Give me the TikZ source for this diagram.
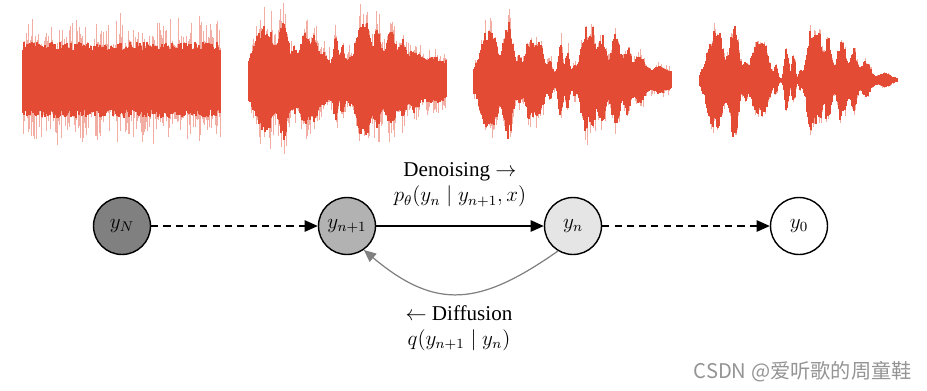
\documentclass[tikz,border=0pt]{standalone}
\usepackage[no-math]{fontspec}
\setmainfont{Liberation Serif}
\newfontfamily\cjkfont{Noto Sans CJK SC}
\usetikzlibrary{arrows.meta}

\definecolor{wavered}{RGB}{227,75,52}

% envelope of the clean signal
\pgfmathdeclarefunction{bump}{3}{%
  \pgfmathparse{abs((#1-#2)/#3)}%
  \pgfmathparse{exp(-min(\pgfmathresult,3)^2)}%
}
\pgfmathdeclarefunction{speech}{1}{%
  \pgfmathparse{36*bump(#1,0.055,0.04)+36*bump(#1,0.1,0.035)+60*bump(#1,0.175,0.03)
    +18*bump(#1,0.23,0.012)+36*bump(#1,0.28,0.03)+34*bump(#1,0.33,0.03)
    +13*bump(#1,0.385,0.012)+38*bump(#1,0.44,0.013)+26*bump(#1,0.475,0.011)
    +8*bump(#1,0.51,0.01)+52*bump(#1,0.565,0.03)+40*bump(#1,0.605,0.02)
    +47*bump(#1,0.65,0.022)+44*bump(#1,0.72,0.03)+30*bump(#1,0.78,0.02)
    +18*bump(#1,0.84,0.035)+6*bump(#1,0.94,0.04)}%
}

\newcommand{\drawwave}[4]{%
  \foreach \i in {0,...,197}{%
    \pgfmathsetmacro{\wenv}{#3*speech(\i/197)}%
    \pgfmathsetmacro{\wup}{\wenv*(0.65+0.35*rnd)+#2*(0.75+0.25*rnd)}%
    \pgfmathsetmacro{\wdn}{\wenv*(0.65+0.35*rnd)+#2*(0.75+0.25*rnd)}%
    \pgfmathsetmacro{\wupf}{\wup+(#2+0.4*\wenv)*#4*rnd^3}%
    \pgfmathsetmacro{\wdnf}{\wdn+(#2+0.4*\wenv)*#4*rnd^3}%
    \draw[wavefaint] (#1+\i,310+\wupf) -- (#1+\i,310-\wdnf);
    \draw[wave] (#1+\i,310+\wup) -- (#1+\i,310-\wdn);
  }%
}

\begin{document}
\begin{tikzpicture}[x=0.02cm,y=0.02cm,
  font=\fontsize{12}{14.4}\selectfont,
  state/.style={circle,draw,thick,minimum size=1.14cm,inner sep=0pt},
  wave/.style={wavered,line width=0.75pt},
  wavefaint/.style={wavered,opacity=0.45,line width=0.5pt},
  tip/.style={-{Triangle[length=7.5pt,width=6.5pt]}},
  dashedge/.style={tip,thick,dash pattern=on 4pt off 3pt},
  solidedge/.style={tip,thick},
  diffedge/.style={-{Triangle[length=7pt,width=6pt]},line width=0.7pt,draw=black!50}]

\useasboundingbox (0,0) rectangle (927,390);

\pgfmathsetseed{7}
\drawwave{23}{38}{0}{0.8}
\drawwave{249}{20}{0.75}{0.7}
\drawwave{474}{9}{0.9}{0.6}
\drawwave{700}{1.5}{1}{0.4}

\node[state,fill=black!50] (yN) at (122,164) {$y_N$};
\node[state,fill=black!30] (yn1) at (347,164) {$y_{n+1}$};
\node[state,fill=black!10] (yn) at (573,164) {$y_n$};
\node[state,fill=white] (y0) at (799,164) {$y_0$};

\draw[dashedge] (yN) -- (yn1);
\draw[solidedge] (yn1) -- node[above=7pt,align=center] (denoise)
  {Denoising $\rightarrow$\\$p_\theta(y_n \mid y_{n+1}, x)$} (yn);
\draw[dashedge] (yn) -- (y0);

\draw[diffedge] (yn.239) to[out=215,in=-40,looseness=1.25]
  node[below=3pt,align=center] (diffuse)
  {$\leftarrow$ Diffusion\\$q(y_{n+1} \mid y_n)$} (yn1.-55);

\node[anchor=base east,inner sep=0pt,text=black!42,font=\cjkfont\fontsize{11.5}{14}\selectfont]
  (mark) at (912,12) {CSDN @爱听歌的周童鞋};
\end{tikzpicture}
\end{document}
